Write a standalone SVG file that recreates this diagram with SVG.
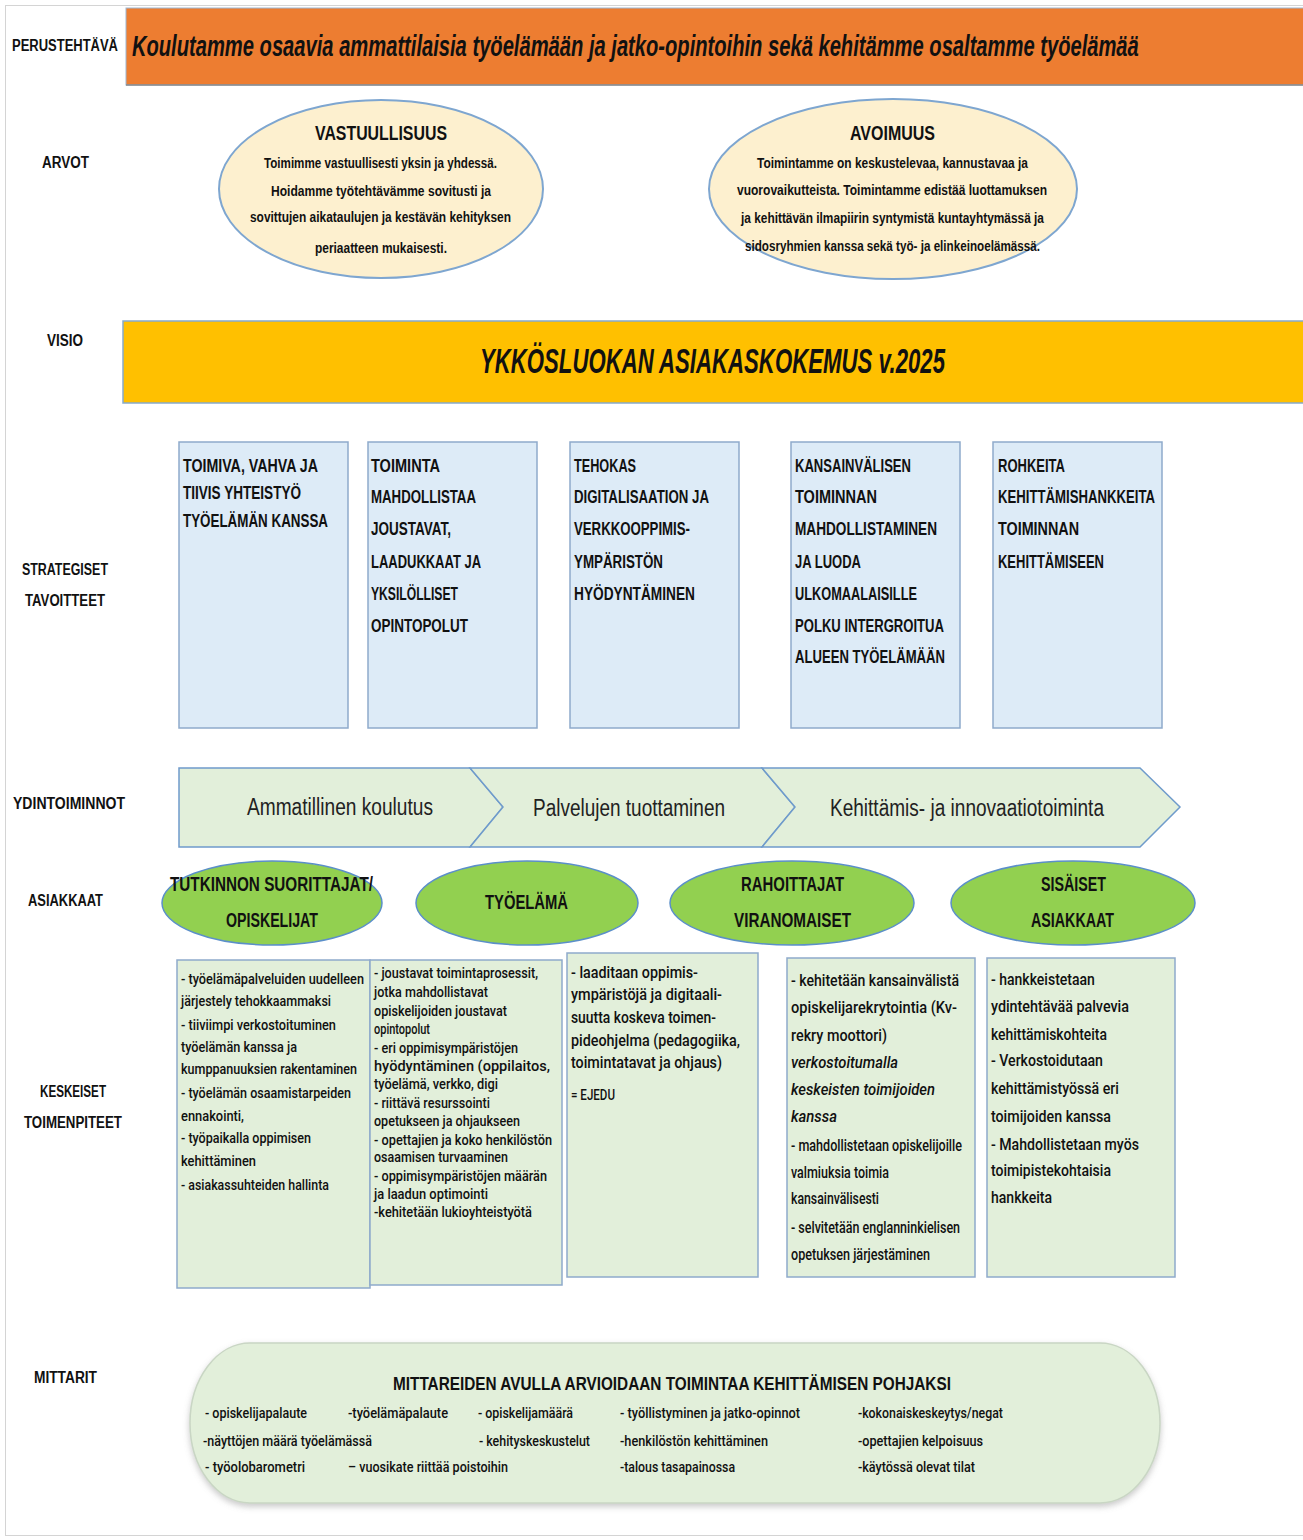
<svg xmlns="http://www.w3.org/2000/svg" width="1303" height="1540" viewBox="0 0 1303 1540">
<style>
text{font-family:"Liberation Sans",Arial,sans-serif;fill:#111;dominant-baseline:central}
.lbl{font-weight:bold;font-size:17px}
.ban{font-weight:bold;font-style:italic;font-size:30px}
.vis{font-weight:bold;font-style:italic;font-size:36px}
.eh{font-weight:bold;font-size:20px}
.et{font-weight:bold;font-size:15px}
.st{font-weight:bold;font-size:19px}
.ch{font-size:24px;fill:#222}
.ge{font-weight:bold;font-size:20px}
.bd{font-family:Roboto,"Liberation Sans",Arial,sans-serif;font-weight:500}
.a{font-size:15.5px}
.b{font-size:15px}
.c{font-size:17px}
.d{font-size:16px}
.i{font-style:italic}
.e{font-size:17px}
.mt{font-weight:bold;font-size:19px}
.m{font-size:14.5px}
.sbox{fill:#DDEBF7;stroke:#8EAACB;stroke-width:1.5}
.abox{fill:#E2EFDA;stroke:#8EAACB;stroke-width:1.5}
.chev{fill:#E2EFDA;stroke:#6F9BCB;stroke-width:1.5}
.gel{fill:#92D050;stroke:#5B8FC9;stroke-width:1.5}
.yel{fill:#FDF0CF;stroke:#7EA6D0;stroke-width:2}
</style>
<defs>
<filter id="sh" x="-5%" y="-5%" width="110%" height="120%">
<feDropShadow dx="0" dy="3" stdDeviation="3" flood-color="#888" flood-opacity="0.45"/>
</filter>
</defs>
<rect x="0" y="0" width="1303" height="1540" fill="#fff"/>
<rect x="5.5" y="5.5" width="1300" height="1530" fill="none" stroke="#d4d4d4" stroke-width="1"/>

<g id="labels">
<g transform="scale(0.72,1)">
<text class="lbl" x="16.67" y="45" textLength="147.2" lengthAdjust="spacingAndGlyphs">PERUSTEHTÄVÄ</text>
<text class="lbl" x="58.33" y="162" textLength="65.28" lengthAdjust="spacingAndGlyphs">ARVOT</text>
<text class="lbl" x="65.28" y="340" textLength="50" lengthAdjust="spacingAndGlyphs">VISIO</text>
<text class="lbl" x="30.56" y="569" textLength="119.4" lengthAdjust="spacingAndGlyphs">STRATEGISET</text>
<text class="lbl" x="34.72" y="600" textLength="111.1" lengthAdjust="spacingAndGlyphs">TAVOITTEET</text>
<text class="lbl" x="18.06" y="803" textLength="155.6" lengthAdjust="spacingAndGlyphs">YDINTOIMINNOT</text>
<text class="lbl" x="38.89" y="900" textLength="104.2" lengthAdjust="spacingAndGlyphs">ASIAKKAAT</text>
<text class="lbl" x="55.56" y="1091" textLength="91.67" lengthAdjust="spacingAndGlyphs">KESKEISET</text>
<text class="lbl" x="33.33" y="1122" textLength="136.1" lengthAdjust="spacingAndGlyphs">TOIMENPITEET</text>
<text class="lbl" x="47.22" y="1377" textLength="87.5" lengthAdjust="spacingAndGlyphs">MITTARIT</text>
</g>
</g>

<g id="perustehtava">
<rect x="126" y="8" width="1180" height="77" fill="#ED7D31" stroke="#9DB7D3" stroke-width="1"/>
<line x1="126" y1="85" x2="1303" y2="85" stroke="#8a8a8a" stroke-width="1.5"/>
<g transform="scale(0.65,1)">
<text class="ban" x="203" y="45" textLength="1549" lengthAdjust="spacingAndGlyphs">Koulutamme osaavia ammattilaisia työelämään ja jatko-opintoihin sekä kehitämme osaltamme työelämää</text>
</g>
</g>

<g id="arvo-vastuullisuus">
<ellipse class="yel" cx="381" cy="189" rx="162" ry="89"/>
<g transform="scale(0.69,1)">
<text class="eh" x="456.5" y="133" textLength="191.3" lengthAdjust="spacingAndGlyphs">VASTUULLISUUS</text>
<text class="et" x="382.6" y="163" textLength="337.7" lengthAdjust="spacingAndGlyphs">Toimimme vastuullisesti yksin ja yhdessä.</text>
<text class="et" x="392.75" y="191" textLength="318.8" lengthAdjust="spacingAndGlyphs">Hoidamme työtehtävämme sovitusti ja</text>
<text class="et" x="362.3" y="217" textLength="378.3" lengthAdjust="spacingAndGlyphs">sovittujen aikataulujen ja kestävän kehityksen</text>
<text class="et" x="456.5" y="248" textLength="191.3" lengthAdjust="spacingAndGlyphs">periaatteen mukaisesti.</text>
</g>
</g>

<g id="arvo-avoimuus">
<ellipse class="yel" cx="893" cy="189" rx="184" ry="90"/>
<g transform="scale(0.69,1)">
<text class="eh" x="1231.9" y="133" textLength="123.2" lengthAdjust="spacingAndGlyphs">AVOIMUUS</text>
<text class="et" x="1097.1" y="163" textLength="392.75" lengthAdjust="spacingAndGlyphs">Toimintamme on keskustelevaa, kannustavaa ja</text>
<text class="et" x="1068.1" y="190" textLength="449.3" lengthAdjust="spacingAndGlyphs">vuorovaikutteista. Toimintamme edistää luottamuksen</text>
<text class="et" x="1073.9" y="218" textLength="439.1" lengthAdjust="spacingAndGlyphs">ja kehittävän ilmapiirin syntymistä kuntayhtymässä ja</text>
<text class="et" x="1079.7" y="246" textLength="427.5" lengthAdjust="spacingAndGlyphs">sidosryhmien kanssa sekä työ- ja elinkeinoelämässä.</text>
</g>
</g>

<g id="visio">
<rect x="123" y="321" width="1183" height="82" fill="#FFC000" stroke="#86AACB" stroke-width="1.5"/>
<g transform="scale(0.6,1)">
<text class="vis" x="800" y="360" textLength="775" lengthAdjust="spacingAndGlyphs">YKKÖSLUOKAN ASIAKASKOKEMUS v.2025</text>
</g>
</g>

<g id="tavoite-1">
<rect class="sbox" x="179" y="442" width="169" height="286"/>
<g transform="scale(0.64,1)">
<text class="st" x="285.94" y="465" textLength="210.9" lengthAdjust="spacingAndGlyphs">TOIMIVA, VAHVA JA</text>
<text class="st" x="285.94" y="492" textLength="184.4" lengthAdjust="spacingAndGlyphs">TIIVIS YHTEISTYÖ</text>
<text class="st" x="285.94" y="520" textLength="226.6" lengthAdjust="spacingAndGlyphs">TYÖELÄMÄN KANSSA</text>
</g>
</g>
<g id="tavoite-2">
<rect class="sbox" x="368" y="442" width="169" height="286"/>
<g transform="scale(0.64,1)">
<text class="st" x="579.69" y="465" textLength="107.8" lengthAdjust="spacingAndGlyphs">TOIMINTA</text>
<text class="st" x="579.69" y="496" textLength="164.1" lengthAdjust="spacingAndGlyphs">MAHDOLLISTAA</text>
<text class="st" x="579.69" y="528" textLength="125" lengthAdjust="spacingAndGlyphs">JOUSTAVAT,</text>
<text class="st" x="579.69" y="561" textLength="171.9" lengthAdjust="spacingAndGlyphs">LAADUKKAAT JA</text>
<text class="st" x="579.69" y="593" textLength="135.9" lengthAdjust="spacingAndGlyphs">YKSILÖLLISET</text>
<text class="st" x="579.69" y="625" textLength="151.6" lengthAdjust="spacingAndGlyphs">OPINTOPOLUT</text>
</g>
</g>
<g id="tavoite-3">
<rect class="sbox" x="570" y="442" width="169" height="286"/>
<g transform="scale(0.64,1)">
<text class="st" x="896.88" y="465" textLength="96.9" lengthAdjust="spacingAndGlyphs">TEHOKAS</text>
<text class="st" x="896.88" y="496" textLength="210.9" lengthAdjust="spacingAndGlyphs">DIGITALISAATION JA</text>
<text class="st" x="896.88" y="528" textLength="181.25" lengthAdjust="spacingAndGlyphs">VERKKOOPPIMIS-</text>
<text class="st" x="896.88" y="561" textLength="139.1" lengthAdjust="spacingAndGlyphs">YMPÄRISTÖN</text>
<text class="st" x="896.88" y="593" textLength="189.1" lengthAdjust="spacingAndGlyphs">HYÖDYNTÄMINEN</text>
</g>
</g>
<g id="tavoite-4">
<rect class="sbox" x="791" y="442" width="169" height="286"/>
<g transform="scale(0.64,1)">
<text class="st" x="1242.19" y="465" textLength="181.25" lengthAdjust="spacingAndGlyphs">KANSAINVÄLISEN</text>
<text class="st" x="1242.19" y="496" textLength="128.1" lengthAdjust="spacingAndGlyphs">TOIMINNAN</text>
<text class="st" x="1242.19" y="528" textLength="221.9" lengthAdjust="spacingAndGlyphs">MAHDOLLISTAMINEN</text>
<text class="st" x="1242.19" y="561" textLength="103.1" lengthAdjust="spacingAndGlyphs">JA LUODA</text>
<text class="st" x="1242.19" y="593" textLength="190.6" lengthAdjust="spacingAndGlyphs">ULKOMAALAISILLE</text>
<text class="st" x="1242.19" y="625" textLength="232.8" lengthAdjust="spacingAndGlyphs">POLKU INTERGROITUA</text>
<text class="st" x="1242.19" y="656" textLength="234.4" lengthAdjust="spacingAndGlyphs">ALUEEN TYÖELÄMÄÄN</text>
</g>
</g>
<g id="tavoite-5">
<rect class="sbox" x="993" y="442" width="169" height="286"/>
<g transform="scale(0.64,1)">
<text class="st" x="1559.38" y="465" textLength="104.7" lengthAdjust="spacingAndGlyphs">ROHKEITA</text>
<text class="st" x="1559.38" y="496" textLength="245.3" lengthAdjust="spacingAndGlyphs">KEHITTÄMISHANKKEITA</text>
<text class="st" x="1559.38" y="528" textLength="126.6" lengthAdjust="spacingAndGlyphs">TOIMINNAN</text>
<text class="st" x="1559.38" y="561" textLength="165.6" lengthAdjust="spacingAndGlyphs">KEHITTÄMISEEN</text>
</g>
</g>

<g id="ydin-ammatillinen-koulutus">
<path class="chev" d="M179,768 L470,768 L503,807 L470,847 L179,847 Z"/>
<text class="ch" transform="scale(0.77,1)" x="320.78" y="807" textLength="241.56" lengthAdjust="spacingAndGlyphs">Ammatillinen koulutus</text>
</g>
<g id="ydin-palvelujen-tuottaminen">
<path class="chev" d="M470,768 L762,768 L795,807 L762,847 L470,847 L503,807 Z"/>
<text class="ch" transform="scale(0.77,1)" x="692.21" y="808" textLength="249.35" lengthAdjust="spacingAndGlyphs">Palvelujen tuottaminen</text>
</g>
<g id="ydin-kehittamis-innovaatio">
<path class="chev" d="M762,768 L1140,768 L1180,807 L1140,847 L762,847 L795,807 Z"/>
<text class="ch" transform="scale(0.77,1)" x="1077.92" y="808" textLength="355.84" lengthAdjust="spacingAndGlyphs">Kehittämis- ja innovaatiotoiminta</text>
</g>

<g id="asiakas-opiskelijat">
<ellipse class="gel" cx="272" cy="903" rx="110" ry="42"/>
<g transform="scale(0.66,1)">
<text class="ge" x="257.58" y="885" textLength="307.58" lengthAdjust="spacingAndGlyphs">TUTKINNON SUORITTAJAT/</text>
<text class="ge" x="342.42" y="921" textLength="139.39" lengthAdjust="spacingAndGlyphs">OPISKELIJAT</text>
</g>
</g>
<g id="asiakas-tyoelama">
<ellipse class="gel" cx="527" cy="903" rx="111" ry="42"/>
<text class="ge" transform="scale(0.66,1)" x="734.85" y="903" textLength="125.76" lengthAdjust="spacingAndGlyphs">TYÖELÄMÄ</text>
</g>
<g id="asiakas-rahoittajat">
<ellipse class="gel" cx="792" cy="903" rx="122" ry="42"/>
<g transform="scale(0.66,1)">
<text class="ge" x="1122.73" y="885" textLength="156.06" lengthAdjust="spacingAndGlyphs">RAHOITTAJAT</text>
<text class="ge" x="1112.12" y="921" textLength="177.27" lengthAdjust="spacingAndGlyphs">VIRANOMAISET</text>
</g>
</g>
<g id="asiakas-sisaiset">
<ellipse class="gel" cx="1073" cy="903" rx="122" ry="42"/>
<g transform="scale(0.66,1)">
<text class="ge" x="1577.27" y="885" textLength="98.48" lengthAdjust="spacingAndGlyphs">SISÄISET</text>
<text class="ge" x="1562.12" y="921" textLength="125.76" lengthAdjust="spacingAndGlyphs">ASIAKKAAT</text>
</g>
</g>

<g id="toimenpiteet-1">
<rect class="abox" x="177" y="960" width="193" height="328"/>
<g transform="scale(0.76,1)">
<text class="bd a" x="238.16" y="978" textLength="240.8" lengthAdjust="spacingAndGlyphs">- työelämäpalveluiden uudelleen</text>
<text class="bd a" x="238.16" y="1000" textLength="197.4" lengthAdjust="spacingAndGlyphs">järjestely tehokkaammaksi</text>
<text class="bd a" x="238.16" y="1024" textLength="203.9" lengthAdjust="spacingAndGlyphs">- tiiviimpi verkostoituminen</text>
<text class="bd a" x="238.16" y="1046" textLength="152.6" lengthAdjust="spacingAndGlyphs">työelämän kanssa ja</text>
<text class="bd a" x="238.16" y="1068" textLength="231.6" lengthAdjust="spacingAndGlyphs">kumppanuuksien rakentaminen</text>
<text class="bd a" x="238.16" y="1092" textLength="223.7" lengthAdjust="spacingAndGlyphs">- työelämän osaamistarpeiden</text>
<text class="bd a" x="238.16" y="1115" textLength="82.9" lengthAdjust="spacingAndGlyphs">ennakointi,</text>
<text class="bd a" x="238.16" y="1137" textLength="171.1" lengthAdjust="spacingAndGlyphs">- työpaikalla oppimisen</text>
<text class="bd a" x="238.16" y="1160" textLength="98.7" lengthAdjust="spacingAndGlyphs">kehittäminen</text>
<text class="bd a" x="238.16" y="1184" textLength="194.7" lengthAdjust="spacingAndGlyphs">- asiakassuhteiden hallinta</text>
</g>
</g>
<g id="toimenpiteet-2">
<rect class="abox" x="370" y="960" width="192" height="325"/>
<g transform="scale(0.76,1)">
<text class="bd b" x="492.11" y="973" textLength="215.8" lengthAdjust="spacingAndGlyphs">- joustavat toimintaprosessit,</text>
<text class="bd b" x="492.11" y="992" textLength="150" lengthAdjust="spacingAndGlyphs">jotka mahdollistavat</text>
<text class="bd b" x="492.11" y="1011" textLength="175" lengthAdjust="spacingAndGlyphs">opiskelijoiden joustavat</text>
<text class="bd b" x="492.11" y="1029" textLength="73.7" lengthAdjust="spacingAndGlyphs">opintopolut</text>
<text class="bd b" x="492.11" y="1048" textLength="189.5" lengthAdjust="spacingAndGlyphs">- eri oppimisympäristöjen</text>
<text class="bd b" x="492.11" y="1066" textLength="231.6" lengthAdjust="spacingAndGlyphs">hyödyntäminen (oppilaitos,</text>
<text class="bd b" x="492.11" y="1084" textLength="163.2" lengthAdjust="spacingAndGlyphs">työelämä, verkko, digi</text>
<text class="bd b" x="492.11" y="1103" textLength="152.6" lengthAdjust="spacingAndGlyphs">- riittävä resurssointi</text>
<text class="bd b" x="492.11" y="1121" textLength="192.1" lengthAdjust="spacingAndGlyphs">opetukseen ja ohjaukseen</text>
<text class="bd b" x="492.11" y="1140" textLength="234.2" lengthAdjust="spacingAndGlyphs">- opettajien ja koko henkilöstön</text>
<text class="bd b" x="492.11" y="1157" textLength="176.3" lengthAdjust="spacingAndGlyphs">osaamisen turvaaminen</text>
<text class="bd b" x="492.11" y="1176" textLength="227.6" lengthAdjust="spacingAndGlyphs">- oppimisympäristöjen määrän</text>
<text class="bd b" x="492.11" y="1194" textLength="150" lengthAdjust="spacingAndGlyphs">ja laadun optimointi</text>
<text class="bd b" x="492.11" y="1212" textLength="207.9" lengthAdjust="spacingAndGlyphs">-kehitetään lukioyhteistyötä</text>
</g>
</g>
<g id="toimenpiteet-3">
<rect class="abox" x="567" y="953" width="191" height="324"/>
<g transform="scale(0.76,1)">
<text class="bd c" x="751.3" y="972" textLength="167.1" lengthAdjust="spacingAndGlyphs">- laaditaan oppimis-</text>
<text class="bd c" x="751.3" y="994" textLength="198.7" lengthAdjust="spacingAndGlyphs">ympäristöjä ja digitaali-</text>
<text class="bd c" x="751.3" y="1017" textLength="190.8" lengthAdjust="spacingAndGlyphs">suutta koskeva toimen-</text>
<text class="bd c" x="751.3" y="1040" textLength="222.4" lengthAdjust="spacingAndGlyphs">pideohjelma (pedagogiika,</text>
<text class="bd c" x="751.3" y="1062" textLength="198.7" lengthAdjust="spacingAndGlyphs">toimintatavat ja ohjaus)</text>
<text class="bd a" x="751.3" y="1094" textLength="57.9" lengthAdjust="spacingAndGlyphs">= EJEDU</text>
</g>
</g>
<g id="toimenpiteet-4">
<rect class="abox" x="787" y="958" width="188" height="319"/>
<g transform="scale(0.76,1)">
<text class="bd d" x="1040.8" y="980" textLength="221.1" lengthAdjust="spacingAndGlyphs">- kehitetään kansainvälistä</text>
<text class="bd d" x="1040.8" y="1007" textLength="218.4" lengthAdjust="spacingAndGlyphs">opiskelijarekrytointia (Kv-</text>
<text class="bd d" x="1040.8" y="1035" textLength="126.3" lengthAdjust="spacingAndGlyphs">rekry moottori)</text>
<text class="bd d i" x="1040.8" y="1062" textLength="140.8" lengthAdjust="spacingAndGlyphs">verkostoitumalla</text>
<text class="bd d i" x="1040.8" y="1089" textLength="189.5" lengthAdjust="spacingAndGlyphs">keskeisten toimijoiden</text>
<text class="bd d i" x="1040.8" y="1116" textLength="60.5" lengthAdjust="spacingAndGlyphs">kanssa</text>
<text class="bd d" x="1040.8" y="1145" textLength="225" lengthAdjust="spacingAndGlyphs">- mahdollistetaan opiskelijoille</text>
<text class="bd d" x="1040.8" y="1172" textLength="128.9" lengthAdjust="spacingAndGlyphs">valmiuksia toimia</text>
<text class="bd d" x="1040.8" y="1198" textLength="115.8" lengthAdjust="spacingAndGlyphs">kansainvälisesti</text>
<text class="bd d" x="1040.8" y="1227" textLength="222.4" lengthAdjust="spacingAndGlyphs">- selvitetään englanninkielisen</text>
<text class="bd d" x="1040.8" y="1254" textLength="182.9" lengthAdjust="spacingAndGlyphs">opetuksen järjestäminen</text>
</g>
</g>
<g id="toimenpiteet-5">
<rect class="abox" x="987" y="958" width="188" height="319"/>
<g transform="scale(0.76,1)">
<text class="bd e" x="1303.9" y="979" textLength="136.8" lengthAdjust="spacingAndGlyphs">- hankkeistetaan</text>
<text class="bd e" x="1303.9" y="1006" textLength="181.6" lengthAdjust="spacingAndGlyphs">ydintehtävää palvevia</text>
<text class="bd e" x="1303.9" y="1034" textLength="152.6" lengthAdjust="spacingAndGlyphs">kehittämiskohteita</text>
<text class="bd e" x="1303.9" y="1060" textLength="147.4" lengthAdjust="spacingAndGlyphs">- Verkostoidutaan</text>
<text class="bd e" x="1303.9" y="1088" textLength="168.4" lengthAdjust="spacingAndGlyphs">kehittämistyössä eri</text>
<text class="bd e" x="1303.9" y="1116" textLength="157.9" lengthAdjust="spacingAndGlyphs">toimijoiden kanssa</text>
<text class="bd e" x="1303.9" y="1144" textLength="194.7" lengthAdjust="spacingAndGlyphs">- Mahdollistetaan myös</text>
<text class="bd e" x="1303.9" y="1170" textLength="157.9" lengthAdjust="spacingAndGlyphs">toimipistekohtaisia</text>
<text class="bd e" x="1303.9" y="1197" textLength="80.3" lengthAdjust="spacingAndGlyphs">hankkeita</text>
</g>
</g>

<g id="mittarit">
<rect x="190" y="1343" width="970" height="160" rx="60" ry="80" fill="#E2EFDA" stroke="#C9D6C4" stroke-width="1.5" filter="url(#sh)"/>
<text class="mt" transform="scale(0.7,1)" x="561.4" y="1383" textLength="797.1" lengthAdjust="spacingAndGlyphs">MITTAREIDEN AVULLA ARVIOIDAAN TOIMINTAA KEHITTÄMISEN POHJAKSI</text>
<g transform="scale(0.83,1)">
<text class="bd m" x="247" y="1413" textLength="122.9" lengthAdjust="spacingAndGlyphs">- opiskelijapalaute</text>
<text class="bd m" x="419.3" y="1413" textLength="120.5" lengthAdjust="spacingAndGlyphs">-työelämäpalaute</text>
<text class="bd m" x="575.9" y="1413" textLength="114.5" lengthAdjust="spacingAndGlyphs">- opiskelijamäärä</text>
<text class="bd m" x="747" y="1413" textLength="216.9" lengthAdjust="spacingAndGlyphs">- työllistyminen ja jatko-opinnot</text>
<text class="bd m" x="1033.7" y="1413" textLength="174.7" lengthAdjust="spacingAndGlyphs">-kokonaiskeskeytys/negat</text>
<text class="bd m" x="244.6" y="1441" textLength="203.6" lengthAdjust="spacingAndGlyphs">-näyttöjen määrä työelämässä</text>
<text class="bd m" x="577.1" y="1441" textLength="133.7" lengthAdjust="spacingAndGlyphs">- kehityskeskustelut</text>
<text class="bd m" x="747" y="1441" textLength="178.3" lengthAdjust="spacingAndGlyphs">-henkilöstön kehittäminen</text>
<text class="bd m" x="1033.7" y="1441" textLength="150.6" lengthAdjust="spacingAndGlyphs">-opettajien kelpoisuus</text>
<text class="bd m" x="247" y="1467" textLength="120.5" lengthAdjust="spacingAndGlyphs">- työolobarometri</text>
<text class="bd m" x="419.3" y="1467" textLength="192.8" lengthAdjust="spacingAndGlyphs">– vuosikate riittää poistoihin</text>
<text class="bd m" x="747" y="1467" textLength="138.6" lengthAdjust="spacingAndGlyphs">-talous tasapainossa</text>
<text class="bd m" x="1033.7" y="1467" textLength="141" lengthAdjust="spacingAndGlyphs">-käytössä olevat tilat</text>
</g>
</g>

<g id="connectors"/>
</svg>
